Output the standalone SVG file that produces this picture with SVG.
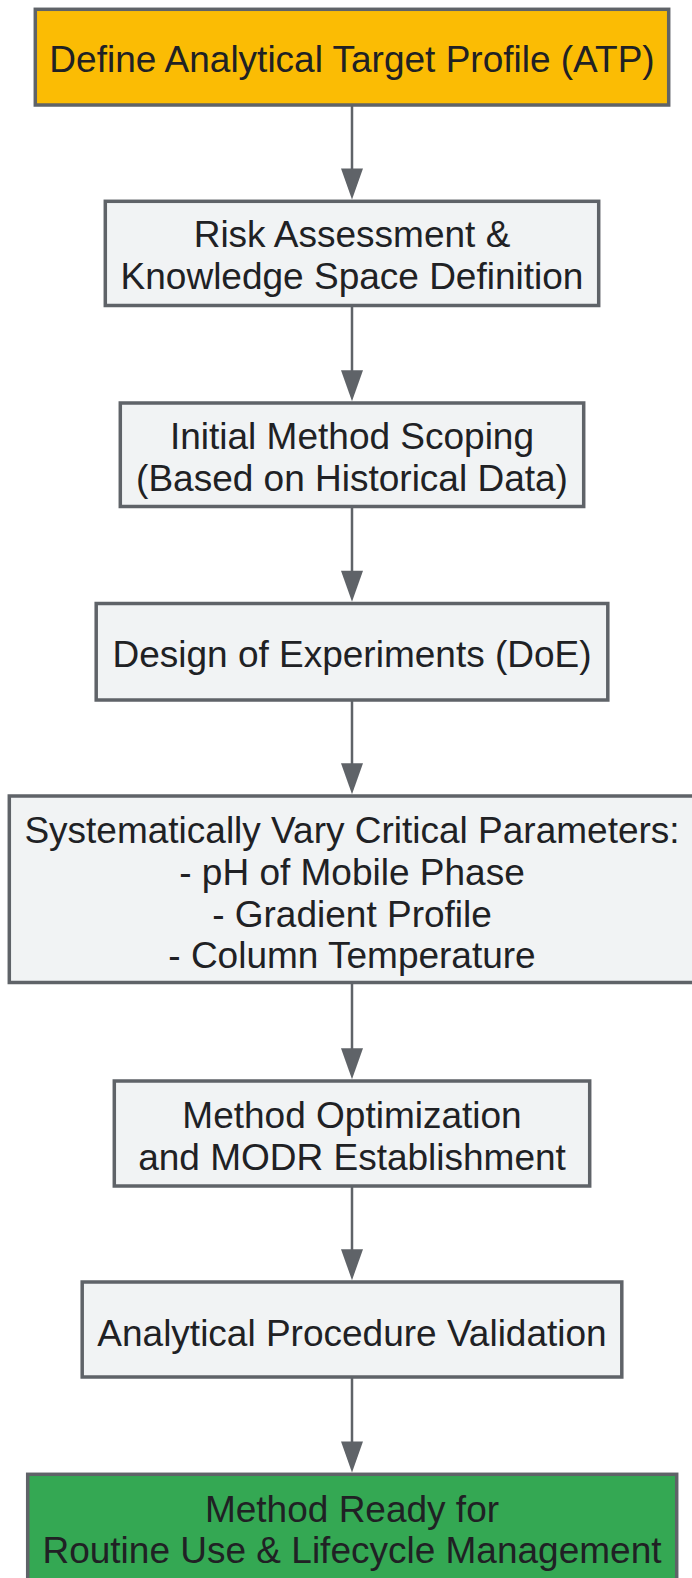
<svg xmlns="http://www.w3.org/2000/svg" width="692" height="1578" viewBox="0 0 692 1578">
<defs>
<style>
.box{fill:#f1f3f4;stroke:#5f6368;stroke-width:3.5}
.atp{fill:#fbbc04}
.ready{fill:#34a853}
.t{font-family:"Liberation Sans",Arial,sans-serif;font-size:37px;fill:#202124;text-anchor:middle}
.edge{stroke:#5f6368;stroke-width:2.5;fill:none}
.head{fill:#5f6368}
</style>
</defs>
<rect width="692" height="1578" fill="#ffffff"/>
<g id="connectors">
<line class="edge" x1="352" y1="106" x2="352" y2="180"/>
<path class="head" d="M341,168.5 L363,168.5 L352,199.5 Z"/>
<line class="edge" x1="352" y1="307" x2="352" y2="382"/>
<path class="head" d="M341,370.2 L363,370.2 L352,401.2 Z"/>
<line class="edge" x1="352" y1="508" x2="352" y2="582"/>
<path class="head" d="M341,570.7 L363,570.7 L352,601.7 Z"/>
<line class="edge" x1="352" y1="701" x2="352" y2="775"/>
<path class="head" d="M341,763.2 L363,763.2 L352,794.2 Z"/>
<line class="edge" x1="352" y1="984" x2="352" y2="1060"/>
<path class="head" d="M341,1048.2 L363,1048.2 L352,1079.2 Z"/>
<line class="edge" x1="352" y1="1187" x2="352" y2="1261"/>
<path class="head" d="M341,1249.2 L363,1249.2 L352,1280.2 Z"/>
<line class="edge" x1="352" y1="1378" x2="352" y2="1453"/>
<path class="head" d="M341,1441.5 L363,1441.5 L352,1472.5 Z"/>
</g>
<g id="n1">
<rect class="box atp" x="35.3" y="9.3" width="633.4" height="95.7"/>
<text class="t" x="352" y="72">Define Analytical Target Profile (ATP)</text>
</g>
<g id="n2">
<rect class="box" x="105.3" y="201.3" width="493.4" height="104.2"/>
<text class="t" x="352" y="247">Risk Assessment &amp;</text>
<text class="t" x="352" y="289">Knowledge Space Definition</text>
</g>
<g id="n3">
<rect class="box" x="120.3" y="403" width="463.4" height="103.5"/>
<text class="t" x="352" y="449">Initial Method Scoping</text>
<text class="t" x="352" y="491">(Based on Historical Data)</text>
</g>
<g id="n4">
<rect class="box" x="96.2" y="603.5" width="511.6" height="96.5"/>
<text class="t" x="352" y="667">Design of Experiments (DoE)</text>
</g>
<g id="n5">
<rect class="box" x="9.3" y="796" width="685.4" height="186.5"/>
<text class="t" x="352" y="843">Systematically Vary Critical Parameters:</text>
<text class="t" x="352" y="885">- pH of Mobile Phase</text>
<text class="t" x="352" y="927">- Gradient Profile</text>
<text class="t" x="352" y="968">- Column Temperature</text>
</g>
<g id="n6">
<rect class="box" x="114.3" y="1081" width="475.4" height="105"/>
<text class="t" x="352" y="1128">Method Optimization </text>
<text class="t" x="352" y="1170"> and MODR Establishment</text>
</g>
<g id="n7">
<rect class="box" x="82.2" y="1282" width="539.6" height="95"/>
<text class="t" x="352" y="1346">Analytical Procedure Validation</text>
</g>
<g id="n8">
<rect class="box ready" x="27.7" y="1474.3" width="649" height="130"/>
<text class="t" x="352" y="1522">Method Ready for</text>
<text class="t" x="352" y="1563">Routine Use &amp; Lifecycle Management</text>
</g>
</svg>
